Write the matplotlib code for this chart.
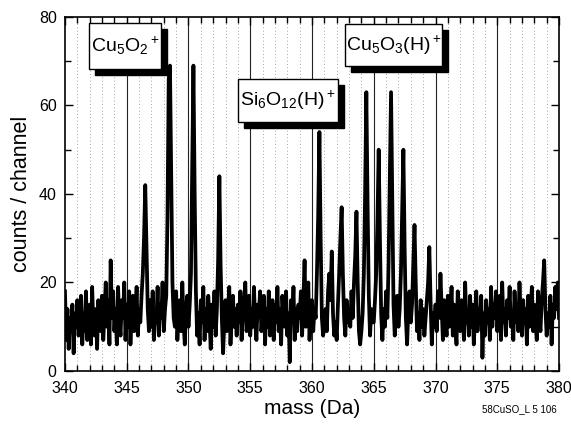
import numpy as np
import matplotlib
matplotlib.use("Agg")
import matplotlib.pyplot as plt
from matplotlib.patches import Rectangle
from matplotlib.ticker import MultipleLocator

plt.rcParams['font.family'] = ['Liberation Sans', 'DejaVu Sans']
plt.rcParams['mathtext.default'] = 'regular'

# counts per channel, 0.1 Da steps, one row per Da (340.0 ... 379.9, then 380.0)
counts_rows = [
    [18, 7, 14, 5, 12, 9, 15, 4, 13, 10],     # 340
    [16, 8, 11, 17, 6, 13, 9, 18, 7, 12],     # 341
    [15, 6, 19, 10, 8, 14, 5, 16, 11, 9],     # 342
    [17, 7, 13, 20, 10, 16, 6, 25, 12, 18],   # 343
    [9, 14, 6, 19, 11, 8, 16, 12, 20, 7],     # 344
    [15, 10, 18, 6, 13, 17, 9, 12, 19, 8],    # 345
    [14, 11, 17, 22, 30, 42, 28, 14, 9, 16],  # 346
    [10, 18, 7, 13, 11, 19, 8, 15, 12, 20],   # 347
    [9, 14, 17, 35, 66, 69, 45, 20, 12, 10],  # 348
    [18, 7, 13, 16, 9, 20, 11, 6, 14, 17],    # 349
    [10, 15, 22, 45, 69, 40, 18, 8, 13, 6],   # 350
    [16, 11, 19, 7, 14, 9, 17, 12, 5, 15],    # 351
    [10, 18, 8, 14, 25, 44, 24, 12, 4, 11],   # 352
    [16, 9, 13, 19, 6, 12, 17, 10, 14, 8],    # 353
    [15, 11, 18, 7, 13, 16, 20, 9, 12, 17],   # 354
    [8, 14, 10, 19, 11, 7, 15, 13, 18, 9],    # 355
    [12, 17, 6, 14, 10, 18, 8, 13, 16, 7],    # 356
    [15, 11, 19, 9, 14, 6, 17, 12, 10, 18],   # 357
    [8, 13, 2, 16, 11, 19, 7, 14, 9, 15],     # 358
    [12, 18, 8, 16, 25, 10, 14, 20, 7, 13],   # 359
    [16, 9, 14, 12, 22, 35, 54, 30, 12, 8],   # 360
    [10, 14, 9, 18, 22, 16, 27, 13, 8, 11],   # 361
    [7, 15, 22, 30, 37, 22, 12, 8, 16, 11],   # 362
    [14, 10, 18, 12, 20, 26, 36, 20, 9, 6],   # 363
    [9, 13, 22, 40, 63, 38, 17, 8, 14, 11],   # 364
    [11, 16, 22, 34, 50, 30, 13, 7, 14, 10],  # 365
    [18, 12, 24, 44, 63, 38, 15, 8, 13, 17],  # 366
    [10, 14, 22, 36, 50, 28, 12, 6, 14, 18],  # 367
    [11, 15, 24, 33, 20, 9, 13, 7, 16, 10],   # 368
    [14, 8, 12, 16, 20, 28, 16, 6, 13, 10],   # 369
    [15, 9, 18, 12, 22, 14, 7, 16, 11, 8],    # 370
    [17, 10, 13, 19, 8, 15, 11, 6, 18, 12],   # 371
    [9, 16, 14, 7, 20, 11, 13, 8, 17, 10],    # 372
    [15, 6, 12, 18, 9, 14, 11, 17, 3, 13],    # 373
    [8, 16, 11, 14, 7, 19, 10, 15, 12, 18],   # 374
    [9, 13, 17, 7, 20, 11, 14, 8, 16, 12],    # 375
    [19, 10, 13, 7, 18, 11, 15, 9, 20, 12],   # 376
    [8, 16, 11, 14, 6, 17, 10, 13, 19, 9],    # 377
    [15, 11, 7, 18, 12, 9, 16, 20, 25, 14],   # 378
    [8, 13, 10, 17, 6, 15, 12, 19, 14, 20],   # 379
]
counts_last = [12]  # 380.0
mass_start = 340.0
mass_step = 0.1

counts = np.array([c for row in counts_rows for c in row] + counts_last, dtype=float)
mass = mass_start + mass_step * np.arange(len(counts))

labels = [r'Cu$_5$O$_2$$^+$', r'Si$_6$O$_{12}$(H)$^+$', r'Cu$_5$O$_3$(H)$^+$']
# label boxes in axes fraction: x0, x1, y0, y1
boxes = [(0.0486, 0.194, 0.853, 0.983),
         (0.350, 0.553, 0.703, 0.825),
         (0.567, 0.763, 0.862, 0.980)]

fig = plt.figure(figsize=(5.71, 4.24), dpi=100)
ax = fig.add_axes([0.1138, 0.125, 0.979 - 0.1138, 0.96 - 0.125])

# grid: dotted every Da, solid every 5 Da
for m in range(341, 380):
    if m % 5 == 0:
        ax.axvline(m, color='#222222', lw=0.8, zorder=1)
    else:
        ax.axvline(m, color='#888888', lw=0.6, ls=(0, (1, 3)), zorder=1)

ax.plot(mass, counts, color='black', lw=2.7, zorder=3)

ax.set_xlim(340, 380)
ax.set_ylim(0, 80)
ax.xaxis.set_major_locator(MultipleLocator(5))
ax.xaxis.set_minor_locator(MultipleLocator(1))
ax.yaxis.set_major_locator(MultipleLocator(20))
ax.yaxis.set_minor_locator(MultipleLocator(10))
ax.tick_params(which='both', direction='in', top=True, right=True, width=1.0)
ax.tick_params(which='major', length=6, labelsize=11.5)
ax.tick_params(axis='x', which='major', pad=7)
ax.tick_params(axis='y', which='major', pad=6)
ax.tick_params(which='minor', length=4)
for s in ax.spines.values():
    s.set_linewidth(1.2)

ax.set_xlabel('mass (Da)', fontsize=15, labelpad=2)
ax.set_ylabel('counts / channel', fontsize=15.5, labelpad=5)
fig.text(0.975, 0.035, '58CuSO_L 5 106', fontsize=7, ha='right', va='center')

# boxes with drop shadow
dx, dy = 6 / 494, 6 / 354
for (x0, x1, y0, y1), lab in zip(boxes, labels):
    ax.add_patch(Rectangle((x0 + dx, y0 - dy), x1 - x0, y1 - y0, transform=ax.transAxes,
                           facecolor='black', edgecolor='black', zorder=5))
    ax.add_patch(Rectangle((x0, y0), x1 - x0, y1 - y0, transform=ax.transAxes,
                           facecolor='white', edgecolor='black', lw=1.0, zorder=6))
    ax.text((x0 + x1) / 2, (y0 + y1) / 2, lab, transform=ax.transAxes,
            ha='center', va='center', fontsize=14, zorder=7)

fig.savefig('out.png', dpi=100)
